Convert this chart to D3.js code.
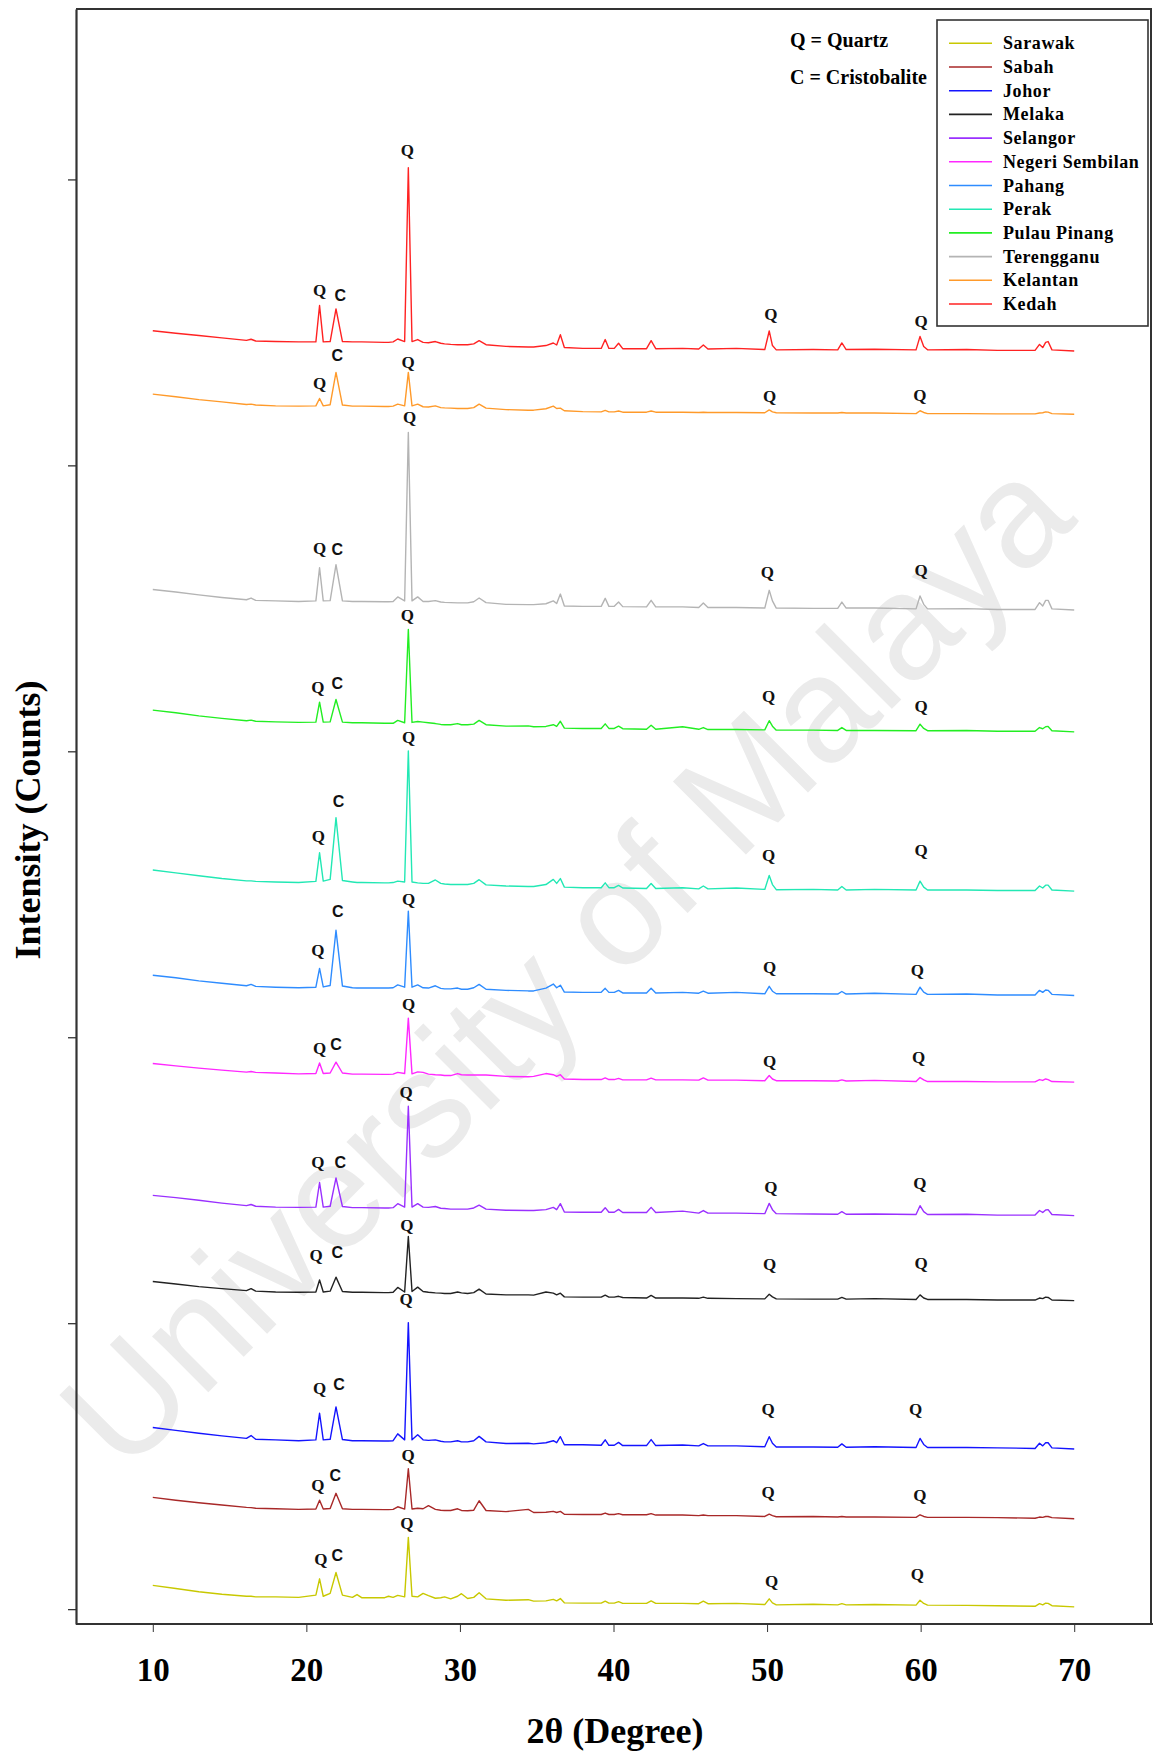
<!DOCTYPE html>
<html><head><meta charset="utf-8">
<script src="https://cdn.jsdelivr.net/npm/d3@7"></script>
<style>
html,body{margin:0;padding:0;background:#fff;}
svg{display:block;}
</style></head><body>
<svg id="chart" width="1153" height="1754"></svg>
<script>
// 2θ sampling positions (degrees) shared by all patterns
const twoTheta = [10,11.5,13,14.5,16.1,16.4,16.7,18,19.5,20.62,20.86,21.1,21.55,21.93,22.35,23.0,23.3,23.6,25.1,25.35,25.65,25.95,26.4,26.64,26.88,27.25,27.6,27.95,28.4,28.75,29.0,29.4,29.85,30.1,30.5,30.9,31.25,31.7,33.0,34.45,34.8,35.6,36.08,36.3,36.54,36.8,38.0,39.2,39.46,39.7,40.05,40.33,40.6,42.15,42.45,42.75,44.5,45.55,45.85,46.15,48.0,49.85,50.14,50.35,50.6,53.0,54.6,54.87,55.15,57.0,59.7,59.96,60.2,60.45,63.0,65.0,67.45,67.74,67.95,68.14,68.3,68.55,70];

const seriesNames = ["Sarawak","Sabah","Johor","Melaka","Selangor","Negeri Sembilan","Pahang","Perak","Pulau Pinang","Terengganu","Kelantan","Kedah"];
const seriesColors = ["#c8c800","#a82828","#1414ff","#222222","#9a30ff","#ff28ff","#2e8cff","#22e8b4","#22ee22","#b4b4b4","#ff9a2a","#ff2222"];
// vertical stacking offsets (counts)
const seriesOffsets = [8,316,560,1079,1376,1843,2146,2511,3068,3494,4179,4400];

// intensities above each pattern's offset (counts)
const sarawak = [75,64,53,44,37,37,35,35,33,41,98,37,47,120,41,33,43,32,32,37,33,40,35,243,37,35,47,39,30,32,35,28,37,46,29,33,49,28,23,25,20,21,26,21,29,14,13,13,20,13,13,18,12,12,21,12,12,11,20,11,12,8,28,14,7,9,7,11,7,8,6,23,12,6,5,4,2,11,7,13,12,4,0];
const sabah = [75,65,56,48,40,39,37,35,33,34,65,34,36,89,35,33,33,33,32,32,33,42,34,175,34,37,35,46,33,30,29,29,35,29,28,30,63,29,25,33,22,23,26,22,26,16,15,15,20,15,15,18,14,14,18,13,13,11,13,11,11,8,16,11,7,8,6,8,6,6,5,14,8,5,5,4,2,6,5,8,8,4,0];
const johor = [75,65,55,46,37,47,34,32,29,32,125,32,34,147,33,29,29,29,28,28,29,53,32,442,32,50,32,30,32,27,25,25,29,25,25,29,44,25,19,20,18,22,29,22,43,15,15,13,32,13,13,23,12,12,33,12,14,11,19,11,11,8,43,20,7,7,6,18,6,8,5,37,16,5,5,4,2,20,11,22,22,4,0];
const melaka = [67,58,49,42,35,42,33,30,29,30,72,30,33,82,32,29,29,29,28,28,29,46,30,224,32,47,32,29,27,26,25,25,30,27,25,28,40,23,20,20,19,30,26,20,26,13,12,12,19,12,12,15,11,9,18,9,9,8,12,8,7,6,22,13,6,5,5,11,5,7,4,20,9,4,4,2,2,9,7,12,11,2,0];
const selangor = [71,63,54,44,35,39,33,30,29,30,116,30,33,132,32,28,28,28,27,27,28,42,30,383,30,42,30,29,32,26,25,23,23,23,23,27,37,23,19,18,18,21,29,21,42,13,12,12,28,12,12,22,11,11,29,11,16,9,18,9,9,7,43,21,7,6,5,14,5,6,4,35,14,4,5,2,2,18,11,20,21,4,0];
const negeriSembilan = [65,57,49,42,35,37,34,32,29,30,67,30,32,70,32,28,28,28,27,27,28,34,30,224,29,36,34,28,26,25,23,23,30,26,25,25,25,25,20,19,20,30,26,20,26,11,9,9,15,9,9,13,8,8,14,8,8,7,15,7,7,5,23,11,5,5,4,8,4,6,2,16,8,2,2,1,1,9,6,11,9,2,0];
const pahang = [71,62,51,43,34,39,32,29,27,29,95,30,35,228,33,27,26,26,26,26,27,37,29,295,29,37,27,26,34,25,23,23,26,22,22,27,39,22,18,16,16,26,40,27,36,12,11,11,25,11,11,18,9,9,25,9,11,8,15,8,11,6,32,15,6,6,5,14,5,8,4,29,12,4,5,2,2,18,11,19,18,4,0];
const perak = [74,64,54,44,36,36,34,32,30,34,134,35,41,257,37,32,30,30,29,29,30,35,32,490,32,29,27,27,39,27,25,23,23,23,23,27,40,22,18,16,16,23,41,27,44,14,12,12,29,12,12,20,11,9,27,9,12,8,18,8,11,6,55,23,5,6,4,16,4,6,4,35,14,4,4,2,2,18,11,21,21,4,0];
const pulauPinang = [76,67,56,47,39,41,37,35,33,34,104,34,35,113,34,32,32,32,30,30,30,40,32,358,33,36,34,32,29,26,25,25,29,25,25,27,40,25,20,21,18,19,25,19,37,13,12,12,28,12,12,20,11,9,23,9,18,9,15,8,8,7,39,20,6,6,5,15,5,5,4,27,12,4,5,2,2,15,11,18,19,4,0];
const terengganu = [72,63,53,44,36,42,34,32,30,32,148,32,33,159,32,30,30,30,29,29,30,46,32,621,32,46,30,30,33,28,27,26,25,25,25,29,42,26,20,19,19,22,32,23,56,14,13,13,41,13,13,28,12,11,34,11,11,9,25,9,9,7,69,32,7,6,6,28,7,7,4,49,20,4,5,2,2,26,14,34,34,4,0];
const kelantan = [70,61,51,43,34,35,32,29,28,29,55,29,33,146,32,28,28,28,27,27,28,35,29,146,29,35,26,25,29,23,22,21,20,20,20,23,35,21,16,14,14,19,28,20,21,12,9,8,13,8,8,11,7,7,11,7,7,6,7,6,6,5,15,8,5,4,4,6,4,4,2,12,6,2,2,1,1,4,5,8,7,2,0];
const kedah = [71,62,54,46,37,41,35,33,32,32,159,32,33,147,33,32,32,32,30,30,32,42,33,641,33,40,30,29,33,27,25,23,22,22,22,25,36,22,16,14,14,19,28,21,57,12,9,9,40,9,9,27,8,8,36,8,9,7,21,7,9,5,70,19,4,5,4,28,5,6,4,51,16,4,5,2,2,23,12,30,33,4,0];

const seriesValues = [sarawak,sabah,johor,melaka,selangor,negeriSembilan,pahang,perak,pulauPinang,terengganu,kelantan,kedah];

const xTicks = [10,20,30,40,50,60,70];
const yTicks = [0,1000,2000,3000,4000,5000];

// peak labels: [letter, 2θ, intensity (counts)]
const peakLabels = [
  ["Q",20.87,4611],["C",22.21,4593],["Q",26.57,5100],["Q",50.25,4527],["Q",60.03,4502],
  ["Q",20.87,4288],["C",22.01,4383],["Q",26.62,4360],["Q",50.17,4241],["Q",59.95,4246],
  ["Q",20.87,3709],["C",22.01,3707],["Q",26.72,4169],["Q",50.02,3627],["Q",60.03,3634],
  ["Q",20.75,3223],["C",22.01,3238],["Q",26.57,3476],["Q",50.10,3191],["Q",60.03,3155],
  ["Q",20.79,2701],["C",22.09,2826],["Q",26.66,3048],["Q",50.10,2636],["Q",60.03,2653],
  ["Q",20.75,2303],["C",22.05,2441],["Q",26.66,2482],["Q",50.17,2243],["Q",59.79,2233],
  ["Q",20.87,1959],["C",21.93,1974],["Q",26.66,2114],["Q",50.17,1914],["Q",59.87,1930],
  ["Q",20.75,1562],["C",22.21,1562],["Q",26.50,1807],["Q",50.25,1476],["Q",59.95,1490],
  ["Q",20.63,1236],["C",22.01,1247],["Q",26.54,1341],["Q",50.17,1204],["Q",60.03,1210],
  ["Q",20.87,773],["C",22.13,784],["Q",26.50,1083],["Q",50.06,699],["Q",59.67,699],
  ["Q",20.75,434],["C",21.89,467],["Q",26.62,539],["Q",50.06,407],["Q",59.95,399],
  ["Q",20.95,172],["C",22.01,187],["Q",26.54,300],["Q",50.29,96],["Q",59.79,122]
];

const svg = d3.select("#chart");
const x = d3.scaleLinear().domain([5,75]).range([76,1151]);
const y = d3.scaleLinear().domain([-52,5596]).range([1624,9]);

// watermark
svg.append("text")
  .attr("transform","translate(565,962) rotate(-45)")
  .attr("text-anchor","middle")
  .attr("dominant-baseline","central")
  .style("font-family","'Liberation Sans', Arial, sans-serif")
  .style("font-size","150px")
  .style("fill","#ebebeb")
  .text("University of Malaya");

// series
const line = d3.line().curve(d3.curveLinear);
seriesValues.forEach((vals,k)=>{
  const pts = vals.map((v,i)=>[x(twoTheta[i]), y(seriesOffsets[k]+v)]);
  svg.append("path")
    .attr("d", line(pts))
    .attr("fill","none")
    .attr("stroke", seriesColors[k])
    .attr("stroke-width",1.4)
    .attr("stroke-linejoin","round");
});

// peak labels
svg.append("g").selectAll("text").data(peakLabels).join("text")
  .attr("x", d=>x(d[1]))
  .attr("y", d=>y(d[2]))
  .attr("text-anchor","middle")
  .attr("dominant-baseline","central")
  .style("font-family", d=> d[0]==="Q" ? "'Liberation Serif', 'Times New Roman', serif" : "'Liberation Sans', Arial, sans-serif")
  .style("font-weight","bold")
  .style("font-size", d=> d[0]==="Q" ? "17px" : "16px")
  .style("fill","#111")
  .text(d=>d[0]);

// axes
const xAxis = d3.axisBottom(x).tickValues(xTicks).tickSize(8).tickSizeOuter(0).tickPadding(26);
const gx = svg.append("g").attr("transform","translate(0,1624)").call(xAxis);
gx.select(".domain").attr("stroke","#333").attr("stroke-width",2.2).attr("d","M76,0H1153");
gx.selectAll(".tick line").attr("stroke","#333").attr("stroke-width",1);
gx.selectAll(".tick text")
  .style("font-family","'Liberation Serif', 'Times New Roman', serif")
  .style("font-weight","bold").style("font-size","33px").style("fill","#000");

const yAxis = d3.axisLeft(y).tickValues(yTicks).tickSize(8).tickSizeOuter(0).tickFormat("");
const gy = svg.append("g").attr("transform","translate(76,0)").call(yAxis);
gy.select(".domain").attr("stroke","#333").attr("stroke-width",2.2);
gy.selectAll(".tick line").attr("stroke","#333").attr("stroke-width",1.3);

// frame top & right
svg.append("path").attr("d","M76,9H1151V1624").attr("fill","none").attr("stroke","#333").attr("stroke-width",2);

// axis titles
svg.append("text").attr("x",615).attr("y",1731)
  .attr("text-anchor","middle").attr("dominant-baseline","central")
  .style("font-family","'Liberation Serif', 'Times New Roman', serif")
  .style("font-weight","bold").style("font-size","36px")
  .text("2θ (Degree)");
svg.append("text").attr("transform","translate(28,820) rotate(-90)")
  .attr("text-anchor","middle").attr("dominant-baseline","central")
  .style("font-family","'Liberation Serif', 'Times New Roman', serif")
  .style("font-weight","bold").style("font-size","36px")
  .text("Intensity (Counts)");

// phase key
const keyTexts = ["Q = Quartz","C = Cristobalite"];
svg.append("g").selectAll("text").data(keyTexts).join("text")
  .attr("x",790).attr("y",(d,i)=>47+i*36.5)
  .style("font-family","'Liberation Serif', 'Times New Roman', serif")
  .style("font-weight","bold").style("font-size","20px")
  .text(d=>d);

// legend
const lg = svg.append("g");
lg.append("rect").attr("x",937).attr("y",20).attr("width",211).attr("height",306)
  .attr("fill","#fff").attr("stroke","#333").attr("stroke-width",1.6);
seriesNames.forEach((n,i)=>{
  const yy = 43.3 + i*23.7;
  lg.append("line").attr("x1",949).attr("x2",992).attr("y1",yy).attr("y2",yy)
    .attr("stroke",seriesColors[i]).attr("stroke-width",1.6);
  lg.append("text").attr("x",1003).attr("y",yy).attr("dominant-baseline","central")
    .style("font-family","'Liberation Serif', 'Times New Roman', serif")
    .style("font-weight","bold").style("font-size","18px").style("letter-spacing","0.6px")
    .text(n);
});
</script>
</body></html>
